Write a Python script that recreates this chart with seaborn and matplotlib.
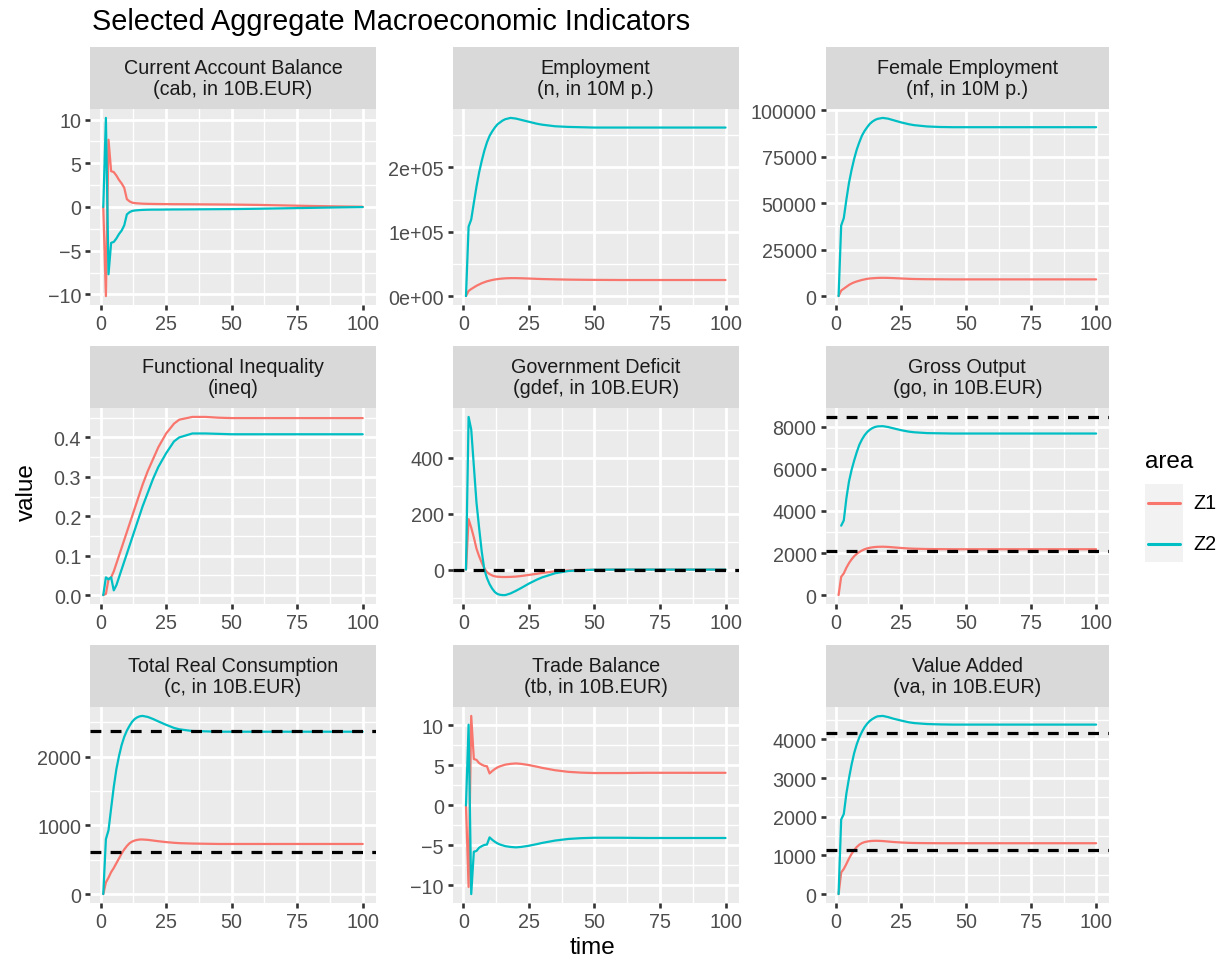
import numpy as np
import pandas as pd
import matplotlib
matplotlib.use("Agg")
import matplotlib.pyplot as plt
import seaborn as sns
from matplotlib.ticker import FixedLocator, FixedFormatter, AutoMinorLocator
from matplotlib.lines import Line2D
from matplotlib.patches import Rectangle

# ---------------------------------------------------------------- data
time = [1, 2, 3, 4, 5, 6, 7, 8, 9, 10, 11, 12, 13, 14, 15, 16, 18, 20, 22, 25,
        28, 30, 35, 40, 45, 50, 60, 70, 80, 90, 100]
areas = ["Z1", "Z2"]

cab_z1 = [0, -10.2, 7.7, 4.1, 4.0, 3.6, 3.1, 2.7, 2.2, 0.9, 0.65, 0.5, 0.45, 0.42, 0.4, 0.38,
          0.36, 0.35, 0.34, 0.33, 0.32, 0.32, 0.31, 0.30, 0.29, 0.28, 0.24, 0.18, 0.12, 0.07, 0.03]
cab_z2 = [0, 10.2, -7.7, -4.1, -4.0, -3.6, -3.1, -2.7, -2.1, -0.85, -0.6, -0.45, -0.4, -0.37, -0.35,
          -0.33, -0.31, -0.30, -0.30, -0.29, -0.28, -0.28, -0.27, -0.26, -0.25, -0.24, -0.20, -0.15,
          -0.10, -0.05, -0.01]

n_z1 = [0, 8000, 11000, 13500, 16000, 18000, 20000, 21500, 23000, 24000, 25000, 25800, 26400,
        26900, 27300, 27600, 27900, 27900, 27700, 27300, 26800, 26500, 26000, 25600, 25400, 25200,
        25000, 25000, 25000, 25000, 25000]
n_z2 = [0, 108000, 119000, 145000, 170000, 192000, 210000, 226000, 239000, 249000, 256000,
        262000, 267000, 270000, 273000, 275000, 277000, 276000, 274000, 271000, 268000, 266500,
        264000, 263000, 262500, 262000, 262000, 262000, 262000, 262000, 262000]

nf_z1 = [0, 3000, 4000, 5000, 6000, 6800, 7400, 7900, 8300, 8700, 9000, 9300, 9500, 9600, 9700,
         9800, 9850, 9800, 9700, 9500, 9300, 9200, 9100, 9050, 9000, 9000, 9000, 9000, 9000, 9000,
         9000]
nf_z2 = [0, 38000, 42000, 52000, 61000, 68000, 74000, 79000, 83000, 86500, 89000, 91000, 92800,
         94000, 94900, 95500, 96000, 95600, 94800, 93600, 92600, 92100, 91400, 91100, 91000, 91000,
         91000, 91000, 91000, 91000, 91000]

ineq_z1 = [0, 0.003, 0.04, 0.045, 0.06, 0.08, 0.10, 0.12, 0.14, 0.16, 0.18, 0.20, 0.22, 0.24,
           0.26, 0.28, 0.315, 0.345, 0.375, 0.41, 0.435, 0.445, 0.452, 0.452, 0.450, 0.449, 0.449,
           0.449, 0.449, 0.449, 0.449]
ineq_z2 = [0, 0.045, 0.04, 0.045, 0.012, 0.025, 0.045, 0.065, 0.085, 0.105, 0.125, 0.145, 0.165,
           0.185, 0.205, 0.225, 0.26, 0.295, 0.325, 0.36, 0.39, 0.40, 0.41, 0.41, 0.409, 0.408,
           0.408, 0.408, 0.408, 0.408, 0.408]

gdef_z1 = [0, 180, 150, 115, 75, 48, 25, 5, -9, -16, -21, -24, -25.5, -26, -26.5, -26.5, -26,
           -25, -23, -19, -15, -12, -6, -3, -1.5, -0.5, 0, 0, 0, 0, 0]
gdef_z2 = [0, 545, 500, 370, 240, 150, 65, 0, -30, -52, -68, -80, -87, -90, -91, -91, -85, -76,
           -66, -50, -36, -28, -13, -5, -2, -0.5, 0, 0, 0, 0, 0]

go_z1 = [0, 870, 1030, 1300, 1520, 1700, 1850, 1960, 2050, 2120, 2180, 2220, 2250, 2270, 2285,
         2295, 2300, 2290, 2270, 2240, 2215, 2205, 2190, 2185, 2180, 2180, 2180, 2180, 2180, 2180,
         2180]
go_z2 = [np.nan, 3300, 3550, 4600, 5400, 5950, 6400, 6800, 7150, 7400, 7600, 7750, 7860, 7940,
         7990, 8020, 8030, 7990, 7930, 7840, 7770, 7740, 7700, 7690, 7680, 7680, 7680, 7680, 7680,
         7680, 7680]

c_z1 = [0, 170, 240, 320, 380, 450, 520, 590, 650, 700, 740, 765, 780, 790, 795, 795, 790, 780,
        770, 757, 747, 742, 736, 733, 730, 730, 730, 730, 730, 730, 730]
c_z2 = [0, 800, 930, 1250, 1560, 1820, 2010, 2170, 2290, 2380, 2450, 2510, 2550, 2575, 2590,
        2595, 2580, 2550, 2515, 2465, 2420, 2400, 2375, 2370, 2365, 2365, 2365, 2365, 2365, 2365,
        2365]

tb_z1 = [0, -10.2, 11.2, 5.8, 5.7, 5.3, 5.1, 4.95, 4.9, 4.0, 4.3, 4.55, 4.75, 4.9, 5.0, 5.1, 5.2,
         5.25, 5.2, 5.05, 4.85, 4.7, 4.4, 4.2, 4.1, 4.05, 4.05, 4.08, 4.08, 4.08, 4.08]
tb_z2 = [0, 10.1, -11.1, -5.8, -5.7, -5.3, -5.1, -4.95, -4.9, -4.0, -4.3, -4.55, -4.75, -4.9,
         -5.0, -5.1, -5.2, -5.25, -5.2, -5.05, -4.85, -4.7, -4.4, -4.2, -4.1, -4.05, -4.05, -4.08,
         -4.08, -4.08, -4.08]

va_z1 = [0, 560, 650, 780, 920, 1040, 1140, 1220, 1280, 1320, 1345, 1360, 1370, 1376, 1378, 1378,
         1372, 1360, 1348, 1335, 1326, 1322, 1318, 1316, 1316, 1316, 1316, 1316, 1316, 1316, 1316]
va_z2 = [0, 1930, 2070, 2600, 3000, 3350, 3650, 3880, 4060, 4200, 4320, 4410, 4480, 4530, 4570,
         4600, 4610, 4580, 4540, 4490, 4445, 4425, 4400, 4390, 4385, 4385, 4385, 4385, 4385, 4385,
         4385]

# benchmark levels drawn as dashed reference lines
gdef_ref = [0]
go_ref = [2100, 8470]
c_ref = [618, 2370]
va_ref = [1144, 4155]

strip_labels = [
    "Current Account Balance\n(cab, in 10B.EUR)",
    "Employment\n(n, in 10M p.)",
    "Female Employment\n(nf, in 10M p.)",
    "Functional Inequality\n(ineq)",
    "Government Deficit\n(gdef, in 10B.EUR)",
    "Gross Output\n(go, in 10B.EUR)",
    "Total Real Consumption\n(c, in 10B.EUR)",
    "Trade Balance\n(tb, in 10B.EUR)",
    "Value Added\n(va, in 10B.EUR)",
]

x_ticks = [0, 25, 50, 75, 100]
x_tick_labels = ["0", "25", "50", "75", "100"]

cab_ticks = [-10, -5, 0, 5, 10]
cab_labels = ["\u221210", "\u22125", "0", "5", "10"]
n_ticks = [0, 100000, 200000]
n_labels = ["0e+00", "1e+05", "2e+05"]
nf_ticks = [0, 25000, 50000, 75000, 100000]
nf_labels = ["0", "25000", "50000", "75000", "100000"]
ineq_ticks = [0.0, 0.1, 0.2, 0.3, 0.4]
ineq_labels = ["0.0", "0.1", "0.2", "0.3", "0.4"]
gdef_ticks = [0, 200, 400]
gdef_labels = ["0", "200", "400"]
go_ticks = [0, 2000, 4000, 6000, 8000]
go_labels = ["0", "2000", "4000", "6000", "8000"]
c_ticks = [0, 1000, 2000]
c_labels = ["0", "1000", "2000"]
tb_ticks = [-10, -5, 0, 5, 10]
tb_labels = ["\u221210", "\u22125", "0", "5", "10"]
va_ticks = [0, 1000, 2000, 3000, 4000]
va_labels = ["0", "1000", "2000", "3000", "4000"]

panels = [
    (cab_z1, cab_z2, [], cab_ticks, cab_labels),
    (n_z1, n_z2, [], n_ticks, n_labels),
    (nf_z1, nf_z2, [], nf_ticks, nf_labels),
    (ineq_z1, ineq_z2, [], ineq_ticks, ineq_labels),
    (gdef_z1, gdef_z2, gdef_ref, gdef_ticks, gdef_labels),
    (go_z1, go_z2, go_ref, go_ticks, go_labels),
    (c_z1, c_z2, c_ref, c_ticks, c_labels),
    (tb_z1, tb_z2, [], tb_ticks, tb_labels),
    (va_z1, va_z2, va_ref, va_ticks, va_labels),
]

palette = {"Z1": "#F8766D", "Z2": "#00BFC4"}

# ---------------------------------------------------------------- style
sns.set_theme(style="darkgrid")
plt.rcParams["font.family"] = ["Liberation Sans", "DejaVu Sans"]

W, H = 1226, 962
fig = plt.figure(figsize=(W / 100, H / 100), dpi=100)
fig.patch.set_facecolor("white")


def add_px_axes(x0, x1, ytop, ybot):
    return fig.add_axes([x0 / W, 1 - ybot / H, (x1 - x0) / W, (ybot - ytop) / H])


col_x = [(90.3, 375.7), (453.0, 738.5), (825.7, 1109.0)]
row_top = [48, 347, 646]
strip_h = 62
panel_h = 196

tick_col = "#333333"
label_col = "#4D4D4D"
small = 14.2

for i, (z1, z2, refs, yt, yl) in enumerate(panels):
    r, c = divmod(i, 3)
    x0, x1 = col_x[c]
    top = row_top[r]

    # strip
    sax = add_px_axes(x0, x1, top, top + strip_h)
    sax.set_facecolor("#D9D9D9")
    sax.set_xticks([])
    sax.set_yticks([])
    for s in sax.spines.values():
        s.set_visible(False)
    sax.grid(False)
    sax.text(0.5, 0.5, strip_labels[i], ha="center", va="center", fontsize=small,
             color="#1A1A1A", linespacing=1.1, transform=sax.transAxes)

    # panel
    ax = add_px_axes(x0, x1, top + strip_h, top + strip_h + panel_h)
    ax.set_facecolor("#EBEBEB")
    df = pd.DataFrame({
        "time": time * 2,
        "value": list(z1) + list(z2),
        "area": ["Z1"] * len(time) + ["Z2"] * len(time),
    })
    sns.lineplot(data=df, x="time", y="value", hue="area", palette=palette,
                 estimator=None, legend=False, linewidth=1.6, ax=ax, zorder=3)
    for ref in refs:
        ax.axhline(ref, color="black", linewidth=2.3, linestyle=(0, (3.4, 2.9)), zorder=4)

    vals = np.array(list(z1) + list(z2) + list(refs), dtype=float)
    lo, hi = np.nanmin(vals), np.nanmax(vals)
    pad = 0.05 * (hi - lo)
    ax.set_ylim(lo - pad, hi + pad)
    ax.set_xlim(min(time) - 0.05 * (max(time) - min(time)),
                max(time) + 0.05 * (max(time) - min(time)))

    ax.xaxis.set_major_locator(FixedLocator(x_ticks))
    ax.xaxis.set_major_formatter(FixedFormatter(x_tick_labels))
    ax.yaxis.set_major_locator(FixedLocator(yt))
    ax.yaxis.set_major_formatter(FixedFormatter(yl))
    ax.xaxis.set_minor_locator(AutoMinorLocator(2))
    ax.yaxis.set_minor_locator(AutoMinorLocator(2))

    ax.grid(which="major", color="white", linewidth=2.0)
    ax.grid(which="minor", color="white", linewidth=1.0)
    ax.set_axisbelow(True)
    for s in ax.spines.values():
        s.set_visible(False)
    ax.tick_params(which="major", length=3.6, width=1.9, color=tick_col, labelcolor=label_col,
                   labelsize=small, pad=3.0, bottom=True, left=True)
    ax.tick_params(which="minor", length=0)
    ax.set_xlabel("")
    ax.set_ylabel("")

# ---------------------------------------------------------------- titles
fig.text(92 / W, 1 - 30 / H, "Selected Aggregate Macroeconomic Indicators",
         fontsize=20.8, color="black", ha="left", va="baseline")
fig.text(27 / W, 1 - 492 / H, "value", rotation=90, fontsize=17.5, color="black",
         ha="center", va="center")
fig.text(592 / W, 1 - 948 / H, "time", fontsize=17.5, color="black", ha="center", va="center")

# ---------------------------------------------------------------- legend
fig.text(1145 / W, 1 - 468 / H, "area", fontsize=17.5, color="black", ha="left", va="baseline")
fig.patches.append(Rectangle((1145 / W, 1 - 563 / H), 38 / W, 78 / H, transform=fig.transFigure,
                             facecolor="#F2F2F2", edgecolor="none", zorder=1))
for yk, name in [(504, "Z1"), (545, "Z2")]:
    fig.lines.append(Line2D([1148 / W, 1180 / W], [1 - yk / H, 1 - yk / H],
                            transform=fig.transFigure, color=palette[name], linewidth=2.2,
                            zorder=2))
    fig.text(1193 / W, 1 - yk / H, name, fontsize=small, color="black", ha="left", va="center")

fig.savefig("out.png", dpi=100, facecolor="white")
